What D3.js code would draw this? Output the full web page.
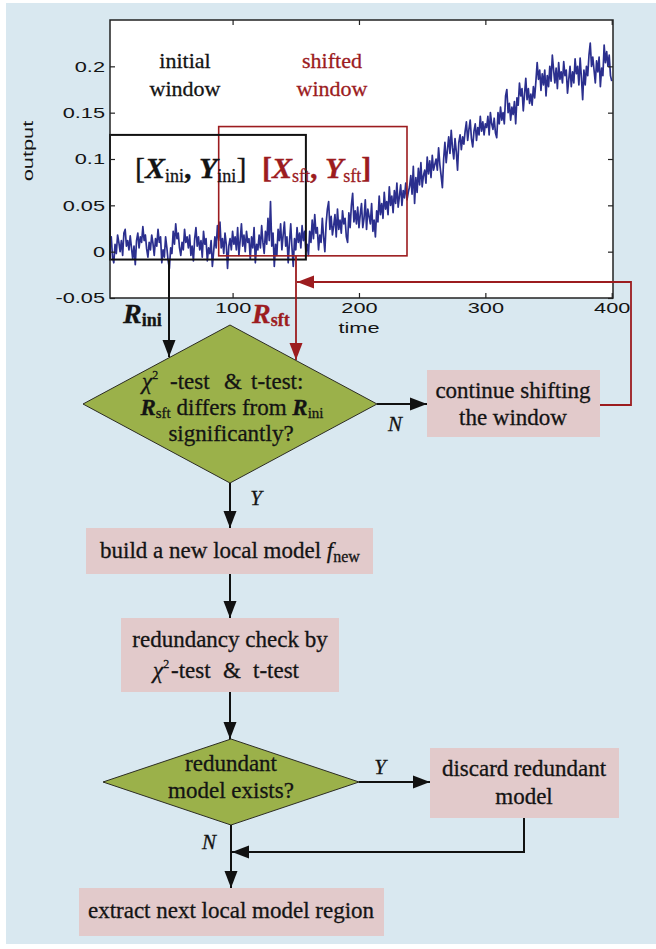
<!DOCTYPE html>
<html><head><meta charset="utf-8">
<script src="https://cdn.jsdelivr.net/npm/d3@7"></script>
<style>body{margin:0;background:#fff;} text{white-space:pre;}</style>
</head><body><svg id="c" width="656" height="949"></svg>
<script>
// ---------- data ----------
const timeStart = 1, timeStep = 1;
const outputValues = [
  0.002, 0.014, 0.006, 0.016, -0.006, -0.012, 0.008, -0.002, 0.018, 0.010, 0.000, 0.012, -0.004, 0.020, 0.024, 0.006, 0.012, 0.002, 0.017, 0.004,
  -0.008, 0.006, -0.014, 0.012, 0.020, 0.004, 0.016, 0.010, 0.027, 0.012, 0.018, 0.003, -0.006, 0.010, 0.002, 0.018, 0.009, -0.004, 0.014, 0.006,
  0.024, 0.010, 0.016, -0.012, 0.002, -0.006, 0.016, 0.004, -0.010, -0.018, 0.004, -0.002, 0.022, 0.008, 0.030, 0.014, 0.020, 0.004, -0.004, 0.010,
  0.002, 0.024, 0.010, 0.016, 0.004, 0.018, -0.004, 0.006, -0.010, 0.014, 0.026, 0.006, 0.016, 0.002, 0.012, -0.006, 0.022, 0.008, 0.014, -0.010,
  0.004, -0.002, 0.012, -0.016, 0.000, 0.016, 0.004, 0.028, 0.012, 0.032, 0.004, 0.014, -0.002, 0.020, 0.008, -0.018, 0.006, 0.014, 0.002, 0.022,
  0.008, 0.016, 0.002, 0.026, -0.004, 0.012, 0.030, 0.006, 0.018, 0.000, 0.022, 0.010, 0.014, -0.008, 0.016, 0.004, 0.026, -0.012, 0.008, 0.002,
  0.018, 0.004, 0.028, 0.010, -0.002, 0.022, 0.008, 0.036, 0.012, 0.054, 0.006, 0.020, -0.016, 0.008, -0.004, 0.024, 0.012, 0.030, 0.002, 0.018,
  0.032, 0.006, 0.016, -0.012, 0.010, 0.030, 0.004, -0.016, 0.014, 0.002, 0.026, 0.010, 0.020, 0.004, 0.028, 0.012, 0.022, 0.000, 0.008, -0.004,
  0.022, 0.010, 0.034, 0.014, 0.040, 0.020, 0.026, 0.002, 0.018, 0.010, 0.036, 0.016, 0.000, 0.030, 0.046, 0.054, 0.024, 0.038, 0.018, 0.028,
  0.040, 0.016, 0.046, 0.024, 0.034, 0.020, 0.044, 0.030, 0.036, 0.016, 0.010, 0.042, 0.026, 0.050, 0.063, 0.032, 0.044, 0.030, 0.048, 0.026,
  0.040, 0.052, 0.026, 0.036, 0.056, 0.024, 0.046, 0.038, 0.030, 0.052, 0.022, 0.034, 0.016, 0.044, 0.032, 0.060, 0.040, 0.052, 0.036, 0.064,
  0.046, 0.054, 0.040, 0.070, 0.050, 0.060, 0.042, 0.066, 0.052, 0.074, 0.048, 0.060, 0.072, 0.050, 0.066, 0.058, 0.074, 0.056, 0.064, 0.070,
  0.082, 0.062, 0.092, 0.052, 0.080, 0.064, 0.090, 0.072, 0.096, 0.070, 0.082, 0.088, 0.074, 0.102, 0.084, 0.098, 0.080, 0.104, 0.088, 0.094,
  0.100, 0.088, 0.112, 0.094, 0.082, 0.069, 0.100, 0.118, 0.096, 0.110, 0.124, 0.106, 0.131, 0.112, 0.100, 0.122, 0.108, 0.088, 0.118, 0.126,
  0.110, 0.124, 0.116, 0.130, 0.140, 0.120, 0.132, 0.142, 0.122, 0.113, 0.130, 0.138, 0.120, 0.134, 0.126, 0.146, 0.130, 0.140, 0.126, 0.138,
  0.134, 0.146, 0.126, 0.150, 0.138, 0.132, 0.144, 0.128, 0.123, 0.150, 0.138, 0.156, 0.142, 0.150, 0.138, 0.168, 0.175, 0.150, 0.160, 0.142,
  0.156, 0.148, 0.162, 0.138, 0.166, 0.158, 0.182, 0.168, 0.176, 0.152, 0.170, 0.187, 0.164, 0.176, 0.160, 0.170, 0.158, 0.178, 0.166, 0.184,
  0.204, 0.186, 0.196, 0.174, 0.192, 0.180, 0.196, 0.168, 0.190, 0.178, 0.200, 0.184, 0.212, 0.196, 0.182, 0.198, 0.176, 0.204, 0.186, 0.194,
  0.182, 0.205, 0.190, 0.196, 0.171, 0.186, 0.200, 0.178, 0.194, 0.182, 0.208, 0.192, 0.200, 0.180, 0.209, 0.188, 0.164, 0.196, 0.180, 0.200,
  0.190, 0.212, 0.225, 0.200, 0.210, 0.196, 0.182, 0.206, 0.194, 0.210, 0.178, 0.198, 0.190, 0.223, 0.204, 0.216, 0.200, 0.212, 0.190, 0.184
];
const xTicks = [100, 200, 300, 400];
const yTicks = [-0.05, 0, 0.05, 0.1, 0.15, 0.2];
const yTickLabels = ["-0.05", "0", "0.05", "0.1", "0.15", "0.2"];
const xDomain = [3, 401];
const yDomain = [-0.05, 0.25];
const initialWindow = [3, 158, -0.0085, 0.126];   // t0, t1, ymin, ymax
const shiftedWindow = [89, 238, -0.0045, 0.135];

// ---------- setup ----------
const svg = d3.select("#c");
const serif = '"Liberation Serif","Nimbus Roman","Tinos","Times New Roman","DejaVu Serif",serif';
const sans = '"Liberation Sans",Arial,Helvetica,sans-serif';
const RED = "#9c1c1f", INK = "#141414", BOXF = "#e2cacb", DIAF = "#9bb14a";

svg.append("rect").attr("x", 6).attr("y", 3).attr("width", 650).attr("height", 941).attr("fill", "#d9e8f0");

const P = {l: 110, t: 20, r: 613, b: 298};
const x = d3.scaleLinear().domain(xDomain).range([P.l, P.r]);
const y = d3.scaleLinear().domain(yDomain).range([P.b, P.t]);

svg.append("rect").attr("x", P.l).attr("y", P.t).attr("width", P.r - P.l).attr("height", P.b - P.t).attr("fill", "#fff");
svg.append("clipPath").attr("id", "clip").append("rect")
  .attr("x", P.l).attr("y", P.t).attr("width", P.r - P.l).attr("height", P.b - P.t);

const series = outputValues.map((v, i) => [timeStart + i * timeStep, v]);
svg.append("path").datum(series).attr("clip-path", "url(#clip)")
  .attr("fill", "none").attr("stroke", "#2b2f8e").attr("stroke-width", 1.7).attr("stroke-linejoin", "round")
  .attr("d", d3.line().x(d => x(d[0])).y(d => y(d[1])));

function winRect(w, col, sw) {
  svg.append("rect").attr("x", x(w[0])).attr("y", y(w[3]))
    .attr("width", x(w[1]) - x(w[0])).attr("height", y(w[2]) - y(w[3]))
    .attr("fill", "none").attr("stroke", col).attr("stroke-width", sw);
}
winRect(shiftedWindow, RED, 1.6);
winRect(initialWindow, "#111", 2);

// axes
const stretch = 1.45;
const gL = svg.append("g").attr("transform", `translate(${P.l},0)`)
  .call(d3.axisLeft(y).tickValues(yTicks).tickSize(-5).tickSizeOuter(0).tickPadding(5)
    .tickFormat((d, i) => yTickLabels[i]));
gL.selectAll("text").attr("transform", `translate(-5,0) scale(${stretch},1) translate(5,0)`);
const gR = svg.append("g").attr("transform", `translate(${P.r},0)`)
  .call(d3.axisRight(y).tickValues(yTicks).tickSize(-5).tickSizeOuter(0).tickFormat(""));
const gB = svg.append("g").attr("transform", `translate(0,${P.b})`)
  .call(d3.axisBottom(x).tickValues(xTicks).tickSize(-5).tickSizeOuter(0).tickPadding(4));
gB.selectAll("text").attr("transform", `scale(${stretch},1)`);
const gT = svg.append("g").attr("transform", `translate(0,${P.t})`)
  .call(d3.axisTop(x).tickValues(xTicks).tickSize(-5).tickSizeOuter(0).tickFormat(""));
[gL, gR, gB, gT].forEach(g => {
  g.select(".domain").remove();
  g.selectAll("line").attr("stroke", "#222").attr("stroke-width", 1.2);
  g.selectAll("text").style("font-family", sans).attr("font-size", 15).attr("fill", INK);
});
svg.append("rect").attr("x", P.l).attr("y", P.t).attr("width", P.r - P.l).attr("height", P.b - P.t)
  .attr("fill", "none").attr("stroke", "#222").attr("stroke-width", 1.5);

svg.append("text").attr("transform", `translate(359,333) scale(${stretch},1)`).attr("text-anchor", "middle")
  .style("font-family", sans).attr("font-size", 15).attr("fill", INK).text("time");
svg.append("text").attr("transform", `translate(33,151) rotate(-90) scale(${stretch},1)`).attr("text-anchor", "middle")
  .style("font-family", sans).attr("font-size", 15).attr("fill", INK).text("output");

// ---------- rich text helper ----------
function rich(xp, yp, anchor, parts, size, fill) {
  const col = fill || INK;
  const t = svg.append("text").attr("x", xp).attr("y", yp).attr("text-anchor", anchor)
    .style("font-family", serif).attr("font-size", size).attr("fill", col)
    .attr("stroke", col).attr("stroke-width", 0.3);
  let cur = 0;
  parts.forEach(p => {
    const target = p.sub ? p.sub : (p.sup ? -p.sup : 0);
    const ts = t.append("tspan").attr("dy", target - cur).text(p.t);
    cur = target;
    if (p.x !== undefined) ts.attr("x", p.x);
    if (p.size) ts.attr("font-size", p.size);
    if (p.b) ts.attr("font-weight", "bold");
    if (p.i) ts.attr("font-style", "italic");
    if (p.fill) ts.attr("fill", p.fill);
  });
  return t;
}

rich(185, 68, "middle", [{t: "initial"}], 22);
rich(185, 96, "middle", [{t: "window"}], 22);
rich(332, 68, "middle", [{t: "shifted"}], 22, RED);
rich(332, 96, "middle", [{t: "window"}], 22, RED);
rich(135, 178, "start", [{t: "["}, {t: "X", b: 1, i: 1}, {t: "ini", size: 18, sub: 4},
  {t: ", ", b: 1}, {t: "Y", b: 1, i: 1}, {t: "ini", size: 18, sub: 4}, {t: "]"}], 30);
rich(262, 178, "start", [{t: "[", b: 1}, {t: "X", b: 1, i: 1}, {t: "sft", size: 18, sub: 4},
  {t: ", ", b: 1}, {t: "Y", b: 1, i: 1}, {t: "sft", size: 18, sub: 4}, {t: "]", b: 1}], 30, RED);
rich(123, 323, "start", [{t: "R", b: 1, i: 1}, {t: "ini", size: 18, b: 1, sub: 3}], 28);
rich(252, 323, "start", [{t: "R", b: 1, i: 1}, {t: "sft", size: 18, b: 1, sub: 3}], 28, RED);

// ---------- flowchart ----------
function box(x0, y0, x1, y1) {
  svg.append("rect").attr("x", x0).attr("y", y0).attr("width", x1 - x0).attr("height", y1 - y0).attr("fill", BOXF);
}
function diamond(cx, cy, hw, hh) {
  svg.append("path").attr("d", `M${cx - hw},${cy}L${cx},${cy - hh}L${cx + hw},${cy}L${cx},${cy + hh}Z`)
    .attr("fill", DIAF).attr("stroke", "#2c2c22").attr("stroke-width", 1);
}
function arrow(pts, col, sw) {
  svg.append("path").attr("d", d3.line()(pts)).attr("fill", "none").attr("stroke", col).attr("stroke-width", sw || 2);
  const [a, b] = pts.slice(-2);
  const ang = Math.atan2(b[1] - a[1], b[0] - a[0]);
  const L = 17, W = 6.5;
  const bx = b[0] - L * Math.cos(ang), by = b[1] - L * Math.sin(ang);
  const nx = -Math.sin(ang) * W, ny = Math.cos(ang) * W;
  svg.append("path").attr("d", `M${b[0]},${b[1]}L${bx + nx},${by + ny}L${bx - nx},${by - ny}Z`).attr("fill", col);
}

arrow([[169, 260], [169, 357]], "#111", 2);
arrow([[296, 256], [296, 360]], RED, 1.8);
arrow([[600, 405], [631, 405], [631, 282], [297, 282]], RED, 1.8);

diamond(230, 404, 147, 79);
rich(142, 389, "start", [{t: "χ", i: 1}, {t: "2", size: 12, sup: 10}, {t: "-test", x: 170},
  {t: "&", x: 224}, {t: "t-test:", x: 251}], 23);
rich(232, 415, "middle", [{t: "R", b: 1, i: 1}, {t: "sft", size: 15, sub: 3}, {t: " differs from "},
  {t: "R", b: 1, i: 1}, {t: "ini", size: 15, sub: 3}], 23);
rich(231, 441, "middle", [{t: "significantly?"}], 23);

arrow([[377, 404], [427, 404]], "#111", 2);
rich(395, 431, "middle", [{t: "N", i: 1}], 21);
box(427, 370, 600, 437);
rich(513, 398, "middle", [{t: "continue shifting"}], 23);
rich(513, 425, "middle", [{t: "the window"}], 23);

arrow([[230, 483], [230, 528]], "#111", 2);
rich(256, 505, "middle", [{t: "Y", i: 1}], 21);

box(86, 528, 373, 574);
rich(230, 558, "middle", [{t: "build a new local model "}, {t: "f", i: 1}, {t: "new", size: 16, sub: 4}], 23);

arrow([[230, 574], [230, 618]], "#111", 2);
box(121, 618, 339, 692);
rich(230, 647, "middle", [{t: "redundancy check by"}], 23);
rich(153, 678, "start", [{t: "χ", i: 1}, {t: "2", size: 12, sup: 10}, {t: "-test", x: 171},
  {t: "&", x: 223}, {t: "t-test", x: 253}], 23);

arrow([[230, 692], [230, 739]], "#111", 2);
diamond(231, 782, 128, 43);
rich(231, 771, "middle", [{t: "redundant"}], 23);
rich(231, 798, "middle", [{t: "model exists?"}], 23);

arrow([[359, 782], [430, 782]], "#111", 2);
rich(380, 774, "middle", [{t: "Y", i: 1}], 21);
box(430, 748, 619, 818);
rich(524, 776, "middle", [{t: "discard redundant"}], 23);
rich(524, 804, "middle", [{t: "model"}], 23);

arrow([[524, 818], [524, 852], [232, 852]], "#111", 2);
rich(209, 849, "middle", [{t: "N", i: 1}], 21);
arrow([[231, 825], [231, 888]], "#111", 2);

box(79, 888, 384, 936);
rich(231, 918, "middle", [{t: "extract next local model region"}], 23);
</script></body></html>
